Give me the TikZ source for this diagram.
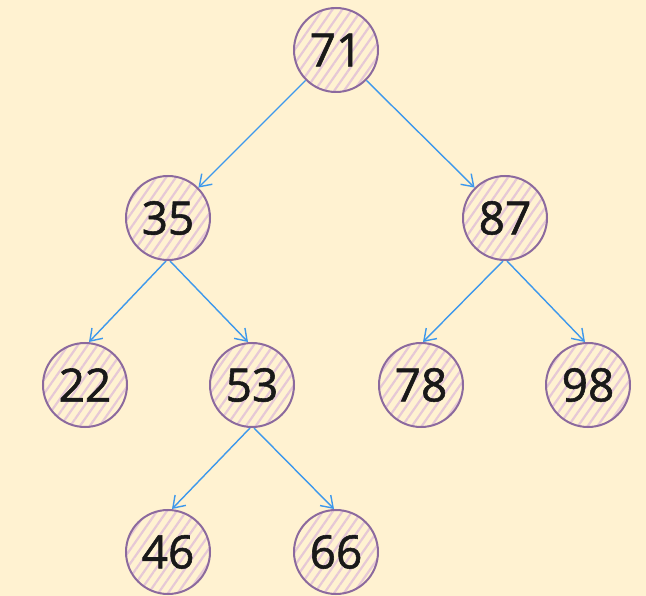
\documentclass[tikz,border=0pt]{standalone}
\usepackage{fontspec}
\setmainfont{Open Sans}
\newfontfamily\numfont{Open Sans}[FakeBold=1.2]
\usetikzlibrary{patterns.meta,arrows.meta}
\definecolor{bg}{HTML}{FFF2D1}
\definecolor{ring}{HTML}{8C6A9E}
\definecolor{hatch}{HTML}{E6C8D6}
\definecolor{edge}{HTML}{3D98EC}
\tikzset{
  tnode/.style={circle, draw=ring, line width=2pt, minimum size=84pt, inner sep=0pt,
    preaction={fill=bg},
    pattern={Lines[angle=55,distance=8pt,line width=2.2pt]}, pattern color=hatch,
    font=\numfont\fontsize{46}{46}\selectfont, text=black!90},
  tedge/.style={draw=edge, line width=1.4pt, -{Straight Barb[length=11pt, width=15pt, line width=1.4pt]}}
}
\begin{document}
\begin{tikzpicture}[x=1pt,y=-1pt]
\fill[bg] (0,0) rectangle (646,596);
\useasboundingbox (0,0) rectangle (646,596);
\node[tnode] (n71) at (336,50) {71};
\node[tnode] (n35) at (168,218) {35};
\node[tnode] (n87) at (505,218) {87};
\node[tnode] (n22) at (85,385) {22};
\node[tnode] (n53) at (252,385) {53};
\node[tnode] (n78) at (421,385) {78};
\node[tnode] (n98) at (588,385) {98};
\node[tnode] (n46) at (168,552) {46};
\node[tnode] (n66) at (336,552) {66};
\draw[tedge] (n71.south west) -- (n35.north east);
\draw[tedge] (n71.south east) -- (n87.north west);
\draw[tedge] ([xshift=-2pt]n35.south) -- ([xshift=4pt]n22.north);
\draw[tedge] ([xshift=2pt]n35.south) -- ([xshift=-4pt]n53.north);
\draw[tedge] ([xshift=-2pt]n87.south) -- ([xshift=2pt]n78.north);
\draw[tedge] ([xshift=2pt]n87.south) -- ([xshift=-3pt]n98.north);
\draw[tedge] ([xshift=-2pt]n53.south) -- ([xshift=4pt]n46.north);
\draw[tedge] ([xshift=2pt]n53.south) -- ([xshift=-2pt]n66.north);
\end{tikzpicture}
\end{document}
